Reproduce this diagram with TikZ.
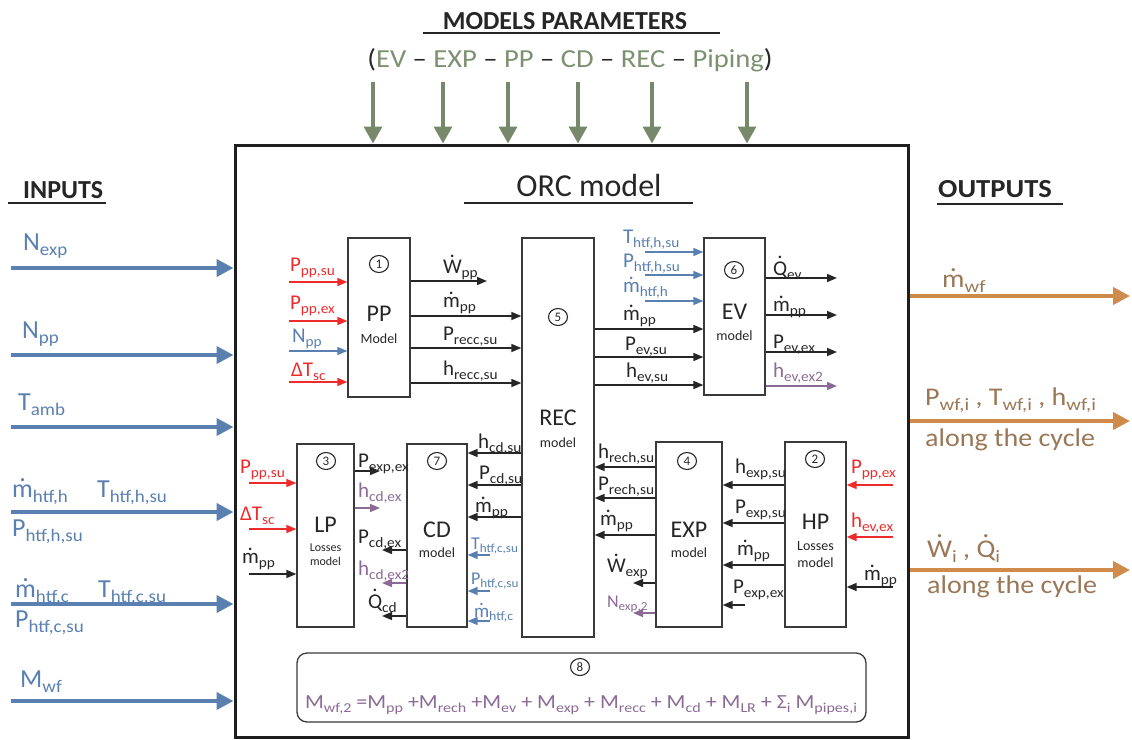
\documentclass[tikz,border=0pt]{standalone}
\usepackage{fontspec}
\setmainfont{Carlito}
\newfontfamily\wfont{Carlito}[FakeStretch=1.1]
\usetikzlibrary{arrows.meta,shapes.geometric}
\definecolor{txt}{HTML}{262626}
\definecolor{boxc}{HTML}{3A3A3A}
\definecolor{mainc}{HTML}{1E1E1E}
\definecolor{blu}{HTML}{5A80B1}
\definecolor{red1}{HTML}{EE2B2B}
\definecolor{pur}{HTML}{8B6A95}
\definecolor{grn}{HTML}{77896A}
\definecolor{grnT}{HTML}{7D9070}
\definecolor{org}{HTML}{CF8B4C}
\definecolor{brn}{HTML}{9A7857}
\newcommand\sbx[1]{\raisebox{-0.2em}{\scalebox{0.73}[0.68]{#1}}}
\newcommand\dt[1]{\leavevmode\setbox0\hbox{#1}\rlap{\hbox to\wd0{\hss\raisebox{\dimexpr\ht0+0.12em\relax}{\smash{.}}\hss}}\box0}
\newcommand\fL{\fontsize{21}{23}\selectfont}
\newcommand\fIn{\fontsize{26}{28}\selectfont}
\newcommand\fOut{\wfont\fontsize{25.5}{27}\selectfont}
\newcommand\fBox{\fontsize{24}{26}\selectfont}
\newcommand\fSm{\fontsize{14}{16}\selectfont}
\newcommand\fNum{\fontsize{13}{14}\selectfont}
\tikzset{
 lab/.style={anchor=base west, inner sep=0pt, outer sep=0pt, font=\fL, text=txt},
 clab/.style={anchor=base, inner sep=0pt, outer sep=0pt, text=txt},
 box/.style={draw=boxc, line width=1.3pt, inner sep=0pt},
 num/.style={ellipse, draw=txt, line width=1.1pt, minimum width=19pt, minimum height=17pt, inner sep=0pt, font=\fNum, text=txt},
 arr/.style={line width=1.5pt, color=txt, -{Triangle[length=10pt,width=8pt]}},
 barr/.style={arr, color=blu},
 rarr/.style={arr, color=red1},
 parr/.style={arr, color=pur},
 big/.style={line width=4pt, -{Triangle[length=17pt,width=17pt]}},
 garr/.style={line width=3.5pt, color=grn, -{Triangle[length=17pt,width=18pt]}},
 hdr/.style={inner sep=0pt, text=txt, font=\bfseries\fontsize{26}{28}\selectfont},
 uline/.style={line width=2.6pt, color=txt},
 inl/.style={anchor=base west, inner sep=0pt, font=\fIn, text=blu},
 outl/.style={anchor=base west, inner sep=0pt, font=\fOut, text=brn},
}
\begin{document}
\begin{tikzpicture}[x=1pt,y=-1pt]
\useasboundingbox (0,0) rectangle (1132,739);

% main box
\node[draw=mainc, line width=3pt, minimum width=673pt, minimum height=592pt, inner sep=0pt] (main) at (571.5,441) {};

% headers
\node[hdr, anchor=base] (mp) at (565,29) {MODELS PARAMETERS};
\draw[uline] (423,33) -- (720,33);
\node[clab, font=\wfont\fontsize{26}{28}\selectfont] (mpl) at (570,67) {(\textcolor{grnT}{EV} – \textcolor{grnT}{EXP} – \textcolor{grnT}{PP} – \textcolor{grnT}{CD} – \textcolor{grnT}{REC} – \textcolor{grnT}{Piping})};
\foreach \gx in {373,443,508,578,652,747}
  \draw[garr] (\gx,82) -- (main.north -| \gx,0);

\node[hdr, anchor=base west] (inp) at (23,198) {INPUTS};
\draw[uline] (8,203) -- (106,203);
\node[hdr, anchor=base west, font=\bfseries\wfont\fontsize{26}{28}\selectfont] (outp) at (938,197) {OUTPUTS};
\draw[uline] (937,204) -- (1063,204);

\node[clab, font=\fontsize{32}{34}\selectfont] (orc) at (589,196) {ORC model};
\draw[uline] (464,203) -- (693,203);

% input arrows
\foreach \iy in {268,355,427,512,604,701}
  \draw[big, color=blu] (11,\iy) -- (main.west |- 0,\iy);
\node[inl] (in1) at (23,250) {N\sbx{exp}};
\node[inl] (in2) at (22,338) {N\sbx{pp}};
\node[inl] (in3) at (18,410) {T\sbx{amb}};
\node[inl] (in4) at (12,497) {\dt{m}\sbx{htf,h}};
\node[inl] (in5) at (97,497) {T\sbx{htf,h,su}};
\node[inl] (in6) at (12,536) {P\sbx{htf,h,su}};
\node[inl] (in7) at (15,597) {\dt{m}\sbx{htf,c}};
\node[inl] (in8) at (98,597) {T\sbx{htf,c,su}};
\node[inl] (in9) at (15,627) {P\sbx{htf,c,su}};
\node[inl] (in10) at (20,687) {M\sbx{wf}};

% output arrows
\foreach \oy in {296,421,570}
  \draw[big, color=org] (main.east |- 0,\oy) -- (1130,\oy);
\node[outl] (o1) at (942,287) {\dt{m}\sbx{wf}};
\node[outl] (o2) at (925,405) {P\sbx{wf,i} , T\sbx{wf,i} , h\sbx{wf,i}};
\node[outl] (o3) at (925,446) {along the cycle};
\node[outl] (o4) at (927,557) {\dt{W}\sbx{i} , \dt{Q}\sbx{i}};
\node[outl] (o5) at (927,593) {along the cycle};

% component boxes
\node[box, minimum width=62pt, minimum height=159pt] (pp) at (379,317.5) {};
\node[box, minimum width=72pt, minimum height=399pt] (rec) at (558,437.5) {};
\node[box, minimum width=61pt, minimum height=157pt] (ev) at (734.5,316.5) {};
\node[box, minimum width=57pt, minimum height=183pt] (lp) at (325.5,535.5) {};
\node[box, minimum width=60pt, minimum height=183pt] (cd) at (437,535.5) {};
\node[box, minimum width=66pt, minimum height=185pt] (exp) at (689,534.5) {};
\node[box, minimum width=61pt, minimum height=185pt] (hp) at (815.5,534.5) {};
\node[box, rounded corners=10pt, minimum width=569pt, minimum height=69pt] (mass) at (581.5,687.5) {};

% numbers
\node[num] (n1) at (379,264) {1};
\node[num] (n5) at (558,317) {5};
\node[num] (n6) at (734,270) {6};
\node[num] (n3) at (326,461) {3};
\node[num] (n7) at (437,461) {7};
\node[num] (n4) at (687,461) {4};
\node[num] (n2) at (815,459) {2};
\node[num] (n8) at (580,667) {8};

% box titles
\node[clab, font=\fBox] (tpp) at (379,321) {PP};
\node[clab, font=\fSm] (tpp2) at (379,343) {Model};
\node[clab, font=\fBox] (trec) at (558,425) {REC};
\node[clab, font=\fSm] (trec2) at (558,447) {model};
\node[clab, font=\fBox] (tev) at (734.5,319) {EV};
\node[clab, font=\fSm] (tev2) at (734.5,340) {model};
\node[clab, font=\fBox] (tlp) at (325.5,532) {LP};
\node[clab, font=\fontsize{12}{13}\selectfont] (tlp2) at (325.5,551) {Losses};
\node[clab, font=\fontsize{12}{13}\selectfont] (tlp3) at (325.5,565) {model};
\node[clab, font=\fBox] (tcd) at (437,537) {CD};
\node[clab, font=\fSm] (tcd2) at (437,557) {model};
\node[clab, font=\fBox] (texp) at (689,537) {EXP};
\node[clab, font=\fSm] (texp2) at (689,557) {model};
\node[clab, font=\fBox] (thp) at (815.5,529) {HP};
\node[clab, font=\fSm] (thp2) at (815.5,550) {Losses};
\node[clab, font=\fSm] (thp3) at (815.5,567) {model};

% PP inputs
\draw[rarr] (289,282) -- (pp.west |- 0,282);
\draw[rarr] (289,321) -- (pp.west |- 0,321);
\draw[barr] (289,351) -- (pp.west |- 0,351);
\draw[rarr] (289,382) -- (pp.west |- 0,382);
\node[lab, text=red1] (a1) at (290,271) {P\sbx{pp,su}};
\node[lab, text=red1] (a2) at (290,309) {P\sbx{pp,ex}};
\node[lab, text=blu] (a3) at (292,342) {N\sbx{pp}};
\node[lab, text=red1] (a4) at (291,376) {ΔT\sbx{sc}};

% PP outputs
\draw[arr] (pp.east |- 0,281) -- (487,281);
\draw[arr] (pp.east |- 0,316) -- (rec.west |- 0,316);
\draw[arr] (pp.east |- 0,348) -- (rec.west |- 0,348);
\draw[arr] (pp.east |- 0,383) -- (rec.west |- 0,383);
\node[lab] (b1) at (443,273) {\dt{W}\sbx{pp}};
\node[lab] (b2) at (443,307) {\dt{m}\sbx{pp}};
\node[lab] (b3) at (443,340) {P\sbx{recc,su}};
\node[lab] (b4) at (443,375) {h\sbx{recc,su}};

% EV inputs
\draw[barr] (645,252) -- (ev.west |- 0,252);
\draw[barr] (645,275) -- (ev.west |- 0,275);
\draw[barr] (645,301) -- (ev.west |- 0,301);
\draw[arr] (rec.east |- 0,329) -- (ev.west |- 0,329);
\draw[arr] (rec.east |- 0,357) -- (ev.west |- 0,357);
\draw[arr] (rec.east |- 0,385) -- (ev.west |- 0,385);
\node[lab, text=blu] (c1) at (623,243) {T\sbx{htf,h,su}};
\node[lab, text=blu] (c2) at (623,267) {P\sbx{htf,h,su}};
\node[lab, text=blu] (c3) at (623,292) {\dt{m}\sbx{htf,h}};
\node[lab] (c4) at (623,320) {\dt{m}\sbx{pp}};
\node[lab] (c5) at (625,350) {P\sbx{ev,su}};
\node[lab] (c6) at (626,377) {h\sbx{ev,su}};

% EV outputs
\draw[arr] (ev.east |- 0,278) -- (837,278);
\draw[arr] (ev.east |- 0,315) -- (837,315);
\draw[arr] (ev.east |- 0,352) -- (837,352);
\draw[parr] (ev.east |- 0,386) -- (837,386);
\node[lab] (d1) at (773,275) {\dt{Q}\sbx{ev}};
\node[lab] (d2) at (773,311) {\dt{m}\sbx{pp}};
\node[lab] (d3) at (773,348) {P\sbx{ev,ex}};
\node[lab, text=pur] (d4) at (773,377) {h\sbx{ev,ex2}};

% LP inputs
\draw[rarr] (249,483) -- (lp.west |- 0,483);
\draw[rarr] (249,529) -- (lp.west |- 0,529);
\draw[arr] (249,574) -- (lp.west |- 0,574);
\node[lab, text=red1] (e1) at (240,473) {P\sbx{pp,su}};
\node[lab, text=red1] (e2) at (240,520) {ΔT\sbx{sc}};
\node[lab] (e3) at (242,563) {\dt{m}\sbx{pp}};

% LP outputs
\draw[arr] (lp.east |- 0,471) -- (380,471);
\draw[parr] (lp.east |- 0,508) -- (380,508);
\node[lab] (f1) at (358,467) {P\sbx{exp,ex}};
\node[lab, text=pur] (f2) at (358,497) {h\sbx{cd,ex}};

% CD outputs
\draw[arr] (cd.west |- 0,550) -- (382,550);
\draw[parr] (cd.west |- 0,583) -- (382,583);
\draw[arr] (cd.west |- 0,616) -- (382,616);
\node[lab] (g1) at (358,543) {P\sbx{cd,ex}};
\node[lab, text=pur] (g2) at (358,575) {h\sbx{cd,ex2}};
\node[lab] (g3) at (368,608) {\dt{Q}\sbx{cd}};

% REC -> CD
\draw[arr] (rec.west |- 0,453) -- (cd.east |- 0,453);
\draw[arr] (rec.west |- 0,485) -- (cd.east |- 0,485);
\draw[arr] (rec.west |- 0,517) -- (cd.east |- 0,517);
\node[lab] (h1) at (478,448) {h\sbx{cd,su}};
\node[lab] (h2) at (479,479) {P\sbx{cd,su}};
\node[lab] (h3) at (475,512) {\dt{m}\sbx{pp}};

% CD blue inputs
\draw[barr] (490,555) -- (cd.east |- 0,555);
\draw[barr] (490,591) -- (cd.east |- 0,591);
\draw[barr] (490,621) -- (cd.east |- 0,621);
\node[lab, text=blu, font=\fontsize{18}{20}\selectfont] (i1) at (471,549) {T\sbx{htf,c,su}};
\node[lab, text=blu, font=\fontsize{18}{20}\selectfont] (i2) at (471,584) {P\sbx{htf,c,su}};
\node[lab, text=blu, font=\fontsize{19}{20}\selectfont] (i3) at (474,617) {\dt{m}\sbx{htf,c}};

% EXP -> REC
\draw[arr] (exp.west |- 0,467) -- (rec.east |- 0,467);
\draw[arr] (exp.west |- 0,498) -- (rec.east |- 0,498);
\draw[arr] (exp.west |- 0,535) -- (rec.east |- 0,535);
\node[lab] (j1) at (598,458) {h\sbx{rech,su}};
\node[lab] (j2) at (598,490) {P\sbx{rech,su}};
\node[lab] (j3) at (600,525) {\dt{m}\sbx{pp}};

% EXP outputs
\draw[arr] (exp.west |- 0,583) -- (633,583);
\draw[parr] (exp.west |- 0,613) -- (633,613);
\node[lab] (k1) at (607,572) {\dt{W}\sbx{exp}};
\node[lab, text=pur, font=\fontsize{18}{20}\selectfont] (k2) at (607,607) {N\sbx{exp,2}};

% HP -> EXP
\draw[arr] (hp.west |- 0,485) -- (exp.east |- 0,485);
\draw[arr] (hp.west |- 0,523) -- (exp.east |- 0,523);
\draw[arr] (hp.west |- 0,565) -- (exp.east |- 0,565);
\draw[arr] (745,605) -- (exp.east |- 0,605);
\node[lab] (m1) at (735,473) {h\sbx{exp,su}};
\node[lab] (m2) at (735,513) {P\sbx{exp,su}};
\node[lab] (m3) at (737,555) {\dt{m}\sbx{pp}};
\node[lab] (m4) at (733,593) {P\sbx{exp,ex}};

% HP inputs
\draw[rarr] (893,485) -- (hp.east |- 0,485);
\draw[rarr] (893,537) -- (hp.east |- 0,537);
\draw[arr] (893,587) -- (hp.east |- 0,587);
\node[lab, text=red1] (p1) at (851,473) {P\sbx{pp,ex}};
\node[lab, text=red1] (p2) at (851,527) {h\sbx{ev,ex}};
\node[lab] (p3) at (864,580) {\dt{m}\sbx{pp}};

% mass formula
\node[clab, text=pur, font=\wfont\fontsize{20}{22}\selectfont] (form) at (581,708) {M\sbx{wf,2} =M\sbx{pp} +M\sbx{rech} +M\sbx{ev} + M\sbx{exp} + M\sbx{recc} + M\sbx{cd} + M\sbx{LR} + Σ\sbx{i} M\sbx{pipes,i}};
\end{tikzpicture}
\end{document}
